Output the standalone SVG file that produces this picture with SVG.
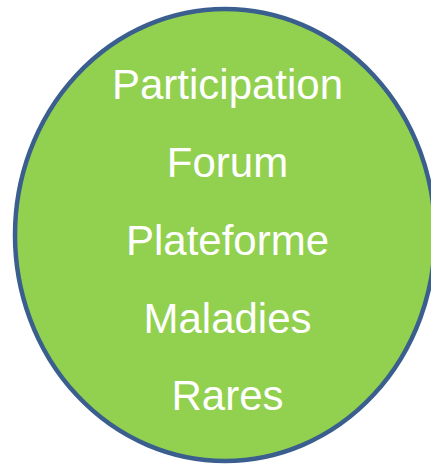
<svg xmlns="http://www.w3.org/2000/svg" width="431" height="465" viewBox="0 0 431 465">
<style>
.t{font-family:"Liberation Sans",Arial,sans-serif;font-size:42px;fill:#ffffff;text-anchor:middle}
</style>
<rect width="431" height="465" fill="#ffffff"/>
<g id="node-circle">
<ellipse cx="225" cy="235" rx="210" ry="226" fill="#92d050" stroke="#3a5f8f" stroke-width="4.5"/>
<text class="t" x="227.5" y="99">Participation</text>
<text class="t" x="227.5" y="177">Forum</text>
<text class="t" x="227.5" y="255">Plateforme</text>
<text class="t" x="227.5" y="333">Maladies</text>
<text class="t" x="227.5" y="410">Rares</text>
</g>
</svg>
